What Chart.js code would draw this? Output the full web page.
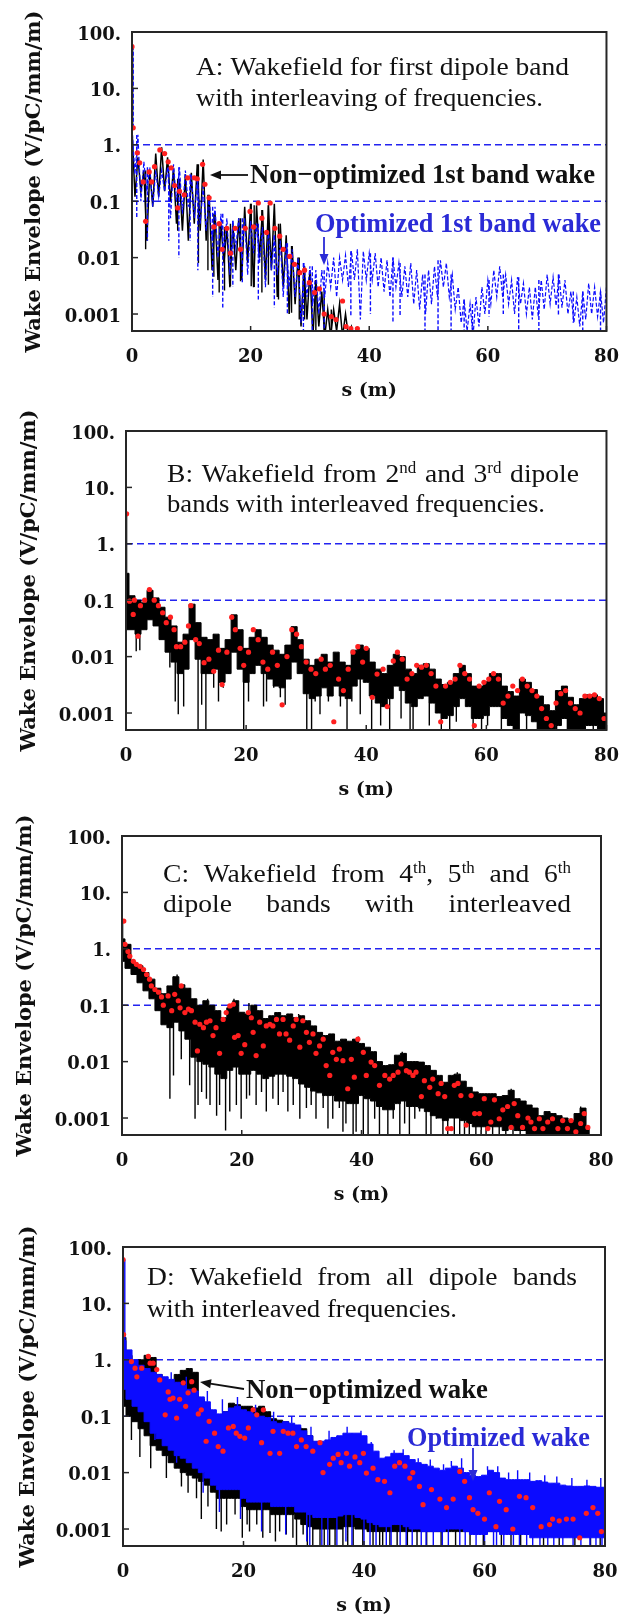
<!DOCTYPE html>
<html>
<head>
<meta charset="utf-8">
<title>Wake envelope</title>
<script src="https://cdn.jsdelivr.net/npm/chart.js@4.4.1/dist/chart.umd.min.js"></script>
<style>
  html, body { margin: 0; padding: 0; background: #fff; }
  body { position: relative; width: 635px; height: 1618px; overflow: hidden; }
  .panel { position: absolute; left: 0; }
</style>
</head>
<body>
<canvas id="panelA" class="panel" width="635" height="400" style="top:2px"></canvas>
<canvas id="panelB" class="panel" width="635" height="400" style="top:401px"></canvas>
<canvas id="panelC" class="panel" width="635" height="400" style="top:806px"></canvas>
<canvas id="panelD" class="panel" width="635" height="400" style="top:1217px"></canvas>
<script>
// ---- shared axes ----
var yTickValues = [100, 10, 1, 0.1, 0.01, 0.001]
var yTickLabels = ['100.', '10.', '1.', '0.1', '0.01', '0.001']
var xTickValues = [0, 20, 40, 60, 80]
var limitLines = [1, 0.1]
var yTitle = 'Wake Envelope (V/pC/mm/m)'
var xTitle = 's (m)'
var sampleStep = 1   // metres between envelope samples

// ---- panel A: first dipole band ----
var aBlackHi = [2, 0.6, 0.35, 0.35, 0.7, 0.9, 0.6, 0.38, 0.25, 0.3, 0.32, 0.45, 0.55, 0.13, 0.06, 0.04, 0.035, 0.04, 0.05, 0.08,
  0.09, 0.085, 0.07, 0.085, 0.09, 0.04, 0.025, 0.016, 0.01, 0.007, 0.006, 0.004, 0.0025, 0.0012, 0.0012, 0.0015, 0.001, 0.0006, 0.0005]
var aBlackLo = [0.12, 0.15, 0.02, 0.08, 0.12, 0.15, 0.1, 0.04, 0.03, 0.02, 0.04, 0.03, 0.02, 0.006, 0.004, 0.008, 0.003, 0.006, 0.004, 0.008,
  0.003, 0.01, 0.004, 0.006, 0.002, 0.003, 0.001, 0.0015, 0.0006, 0.0008, 0.0004, 0.0006, 0.0004, 0.0004, 0.0005, 0.0004, 0.0004, 0.0004, 0.0004]
var aBlackStrokeS = [0.1, 2.3, 7.7, 11.2, 12.8, 13.8, 14.7, 15.6, 16.6, 18.3, 20.1, 20.6, 21.9, 23.0, 24.7, 26.9, 28.2, 29.1, 31.0, 32.4, 33.6]
var aBlackStrokeV = [60, 0.014, 0.03, 0.008, 0.006, 0.0046, 0.0024, 0.0026, 0.0031, 0.0038, 0.0031, 0.003, 0.0024, 0.0033, 0.0018, 0.00105, 0.0008, 0.0008, 0.0004, 0.0004, 0.0004]
var aBlueHi = [2, 1.5, 0.5, 0.4, 0.35, 0.35, 0.4, 0.45, 0.4, 0.35, 0.3, 0.25, 0.18, 0.12, 0.08, 0.06, 0.05, 0.045, 0.05, 0.05,
  0.045, 0.04, 0.035, 0.03, 0.025, 0.02, 0.018, 0.014, 0.01, 0.008, 0.007, 0.006, 0.006, 0.008, 0.01, 0.01, 0.011, 0.013, 0.014, 0.013,
  0.012, 0.012, 0.01, 0.009, 0.01, 0.008, 0.007, 0.008, 0.006, 0.005, 0.006, 0.007, 0.009, 0.008, 0.005, 0.003, 0.0018, 0.0015, 0.002, 0.003,
  0.004, 0.006, 0.007, 0.005, 0.004, 0.0045, 0.0035, 0.003, 0.003, 0.004, 0.005, 0.0045, 0.005, 0.004, 0.0025, 0.002, 0.0025, 0.0035, 0.003, 0.0025, 0.003]
var aBlueLo = [0.3, 0.1, 0.15, 0.08, 0.12, 0.15, 0.05, 0.1, 0.06, 0.08, 0.05, 0.04, 0.03, 0.02, 0.01, 0.012, 0.005, 0.015, 0.01, 0.005,
  0.012, 0.008, 0.003, 0.006, 0.005, 0.002, 0.003, 0.002, 0.0007, 0.002, 0.0015, 0.001, 0.002, 0.003, 0.002, 0.004, 0.003, 0.004, 0.0008, 0.004,
  0.004, 0.003, 0.0025, 0.002, 0.003, 0.002, 0.002, 0.0015, 0.0012, 0.001, 0.0015, 0.002, 0.003, 0.002, 0.0012, 0.0007, 0.0005, 0.0004, 0.0006, 0.001,
  0.0015, 0.002, 0.002, 0.0015, 0.001, 0.0015, 0.001, 0.0008, 0.0009, 0.0012, 0.0015, 0.0014, 0.0013, 0.001, 0.0007, 0.0006, 0.0008, 0.001, 0.0009, 0.0007, 0.001]
var aBlueStrokeS = [0.2, 0.8, 2.6, 6.2, 7.9, 9.8, 11.1, 13.6, 15.3, 17.0, 18.6, 21.3, 24.0, 26.2, 28.9, 30.4, 32.4, 36.9, 40.2, 44.0,
  45.2, 49.4, 51.6, 53.8, 56.0, 57.4, 60.2, 62.6, 65.2, 68.6, 71.9, 74.4, 76.0, 79.0]
var aBlueStrokeV = [60, 0.05, 0.02, 0.02, 0.01, 0.02, 0.006, 0.002, 0.0013, 0.003, 0.0035, 0.0018, 0.0013, 0.001, 0.0004, 0.0004, 0.0004, 0.0009, 0.001, 0.0007,
  0.0009, 0.0004, 0.0004, 0.0004, 0.0004, 0.0004, 0.0009, 0.001, 0.0004, 0.0004, 0.0009, 0.0007, 0.0005, 0.0004]
var aDotS = [0, 0.2, 0.9, 1.3, 1.9, 2.3, 2.9, 3.3, 3.8, 4.7, 5.5, 6.1, 6.6, 7.2, 7.7, 8.0, 8.8, 9.4, 10.5, 11.0,
  11.9, 12.3, 13.0, 13.8, 14.7, 15.2, 16.0, 16.6, 17.4, 18.3, 19.1, 19.9, 20.5, 21.3, 21.9, 22.7, 23.3, 24.1, 24.9, 25.5,
  26.6, 27.4, 28.3, 29.1, 29.9, 30.8, 31.6, 32.4, 33.6, 34.4, 35.5, 36.1, 36.9, 38.0]
var aDotV = [55, 2.0, 0.72, 0.48, 0.22, 0.044, 0.33, 0.22, 0.41, 0.81, 0.7, 0.5, 0.39, 0.19, 0.076, 0.15, 0.13, 0.26, 0.26, 0.25,
  0.45, 0.2, 0.115, 0.035, 0.04, 0.014, 0.033, 0.012, 0.033, 0.014, 0.033, 0.066, 0.035, 0.093, 0.05, 0.028, 0.093, 0.033, 0.024, 0.014,
  0.0105, 0.0076, 0.0054, 0.006, 0.0036, 0.0024, 0.0028, 0.001, 0.0009, 0.0008, 0.0017, 0.0006, 0.00055, 0.00055]

// ---- panel B: 2nd and 3rd bands ----
var bBlackHi = [0.3, 0.12, 0.1, 0.09, 0.15, 0.11, 0.075, 0.05, 0.035, 0.018, 0.025, 0.085, 0.04, 0.022, 0.02, 0.025, 0.014, 0.02, 0.055, 0.03,
  0.014, 0.022, 0.03, 0.022, 0.016, 0.013, 0.011, 0.016, 0.034, 0.02, 0.009, 0.007, 0.009, 0.011, 0.008, 0.012, 0.008, 0.007, 0.013, 0.016,
  0.014, 0.008, 0.006, 0.005, 0.007, 0.011, 0.01, 0.006, 0.005, 0.007, 0.0075, 0.006, 0.004, 0.0032, 0.0035, 0.005, 0.007, 0.005, 0.003, 0.003,
  0.0036, 0.005, 0.005, 0.003, 0.0024, 0.002, 0.004, 0.0035, 0.0026, 0.002, 0.0014, 0.0011, 0.0025, 0.003, 0.0019, 0.0014, 0.0018, 0.0021, 0.0021, 0.0018, 0.001]
var bBlackLo = [0.03, 0.03, 0.025, 0.03, 0.045, 0.035, 0.02, 0.012, 0.008, 0.005, 0.006, 0.02, 0.009, 0.005, 0.005, 0.006, 0.0035, 0.005, 0.012, 0.006,
  0.0035, 0.005, 0.007, 0.005, 0.004, 0.003, 0.0028, 0.004, 0.008, 0.005, 0.0022, 0.0018, 0.002, 0.0028, 0.002, 0.003, 0.002, 0.0018, 0.003, 0.004,
  0.0035, 0.002, 0.0015, 0.0013, 0.0018, 0.003, 0.0025, 0.0015, 0.0013, 0.0018, 0.002, 0.0015, 0.001, 0.0008, 0.0009, 0.0013, 0.0018, 0.0013, 0.0008, 0.0008,
  0.0009, 0.0013, 0.0013, 0.0008, 0.0006, 0.0005, 0.001, 0.0009, 0.0007, 0.0005, 0.0004, 0.0004, 0.0006, 0.0008, 0.0005, 0.0004, 0.0005, 0.0006, 0.0006, 0.0005, 0.0004]
var bBlackStrokeS = [0.1, 1.7, 2.3, 7.3, 8.2, 8.7, 9.6, 12.0, 12.6, 13.3, 14.6, 15.4, 16.2, 17.1, 19.6, 20.4, 22.9, 23.4, 24.6, 25.7,
  26.5, 30.1, 30.9, 31.5, 32.3, 33.7, 35.7, 36.8, 37.6, 39.0, 40.9, 42.4, 43.9, 45.8, 47.3, 47.8, 50.5, 52.5, 53.9, 55.0,
  57.8, 59.2, 60.2, 62.5, 64.5, 66.7, 68.5, 70.9, 71.7, 73.5, 75.6, 77.8, 79.5]
var bBlackStrokeV = [3.5, 0.0125, 0.013, 0.0064, 0.0016, 0.00095, 0.0013, 0.0004, 0.0014, 0.0004, 0.0028, 0.0016, 0.0028, 0.0049, 0.0004, 0.0016, 0.0013, 0.0016, 0.0028, 0.0019,
  0.0014, 0.0004, 0.0004, 0.0016, 0.00095, 0.0016, 0.0013, 0.0004, 0.0016, 0.00095, 0.0004, 0.0006, 0.0004, 0.0008, 0.0004, 0.0005, 0.0006, 0.0004, 0.0004, 0.0007,
  0.0004, 0.0005, 0.0006, 0.0004, 0.0004, 0.0004, 0.0005, 0.0004, 0.0004, 0.0005, 0.0004, 0.0004, 0.0004]
var bDotS = [0.1, 0.6, 1.2, 1.4, 2.0, 2.4, 3.1, 3.9, 4.7, 5.4, 6.1, 6.7, 7.4, 8.0, 8.4, 9.1, 9.8, 10.4, 10.8, 11.6,
  12.2, 13.0, 13.8, 14.6, 15.4, 16.0, 16.8, 17.6, 18.2, 19.0, 19.6, 20.4, 21.2, 22.0, 22.8, 23.6, 24.4, 25.2, 26.0, 26.8,
  27.6, 28.4, 29.2, 30.0, 30.8, 31.6, 32.5, 33.2, 34.0, 34.6, 35.4, 36.2, 37.0, 37.8, 38.6, 39.4, 40.0, 41.0, 41.8, 42.8,
  43.5, 44.5, 45.2, 46.0, 46.8, 47.6, 48.4, 49.2, 50.0, 50.8, 51.6, 52.4, 53.2, 54.0, 54.8, 55.6, 56.4, 57.2, 58.0, 58.8,
  59.6, 60.4, 61.2, 62.0, 62.8, 63.6, 64.4, 65.2, 66.0, 66.8, 67.6, 68.4, 69.2, 70.0, 70.8, 71.6, 72.4, 73.2, 74.0, 74.8,
  75.6, 76.4, 77.2, 78.0, 78.8, 79.6]
var bDotV = [3.4, 0.096, 0.056, 0.1, 0.023, 0.08, 0.1, 0.155, 0.1, 0.08, 0.06, 0.04, 0.05, 0.03, 0.015, 0.015, 0.018, 0.035, 0.08, 0.02,
  0.017, 0.0078, 0.009, 0.0055, 0.013, 0.0032, 0.012, 0.05, 0.03, 0.014, 0.007, 0.012, 0.03, 0.02, 0.008, 0.006, 0.012, 0.007, 0.0014, 0.01,
  0.03, 0.025, 0.015, 0.008, 0.006, 0.005, 0.009, 0.006, 0.007, 0.0007, 0.004, 0.0025, 0.006, 0.012, 0.015, 0.008, 0.014, 0.0019, 0.0049, 0.006,
  0.0013, 0.0084, 0.012, 0.009, 0.004, 0.005, 0.007, 0.0065, 0.007, 0.005, 0.003, 0.0007, 0.003, 0.0035, 0.004, 0.007, 0.005, 0.004, 0.0006, 0.003,
  0.0035, 0.004, 0.005, 0.004, 0.0015, 0.002, 0.003, 0.0025, 0.004, 0.003, 0.0025, 0.002, 0.0012, 0.0008, 0.0006, 0.0015, 0.0022, 0.0025, 0.0015, 0.0012,
  0.001, 0.002, 0.002, 0.0021, 0.0018, 0.0008]

// ---- panel C: 4th, 5th and 6th bands ----
var cBlackHi = [1.5, 1.2, 0.57, 0.5, 0.38, 0.29, 0.2, 0.16, 0.22, 0.32, 0.23, 0.2, 0.13, 0.1, 0.12, 0.1, 0.08, 0.06, 0.09, 0.12,
  0.075, 0.07, 0.1, 0.08, 0.058, 0.065, 0.074, 0.065, 0.07, 0.06, 0.065, 0.053, 0.043, 0.033, 0.029, 0.031, 0.023, 0.025, 0.023, 0.025,
  0.021, 0.018, 0.015, 0.01, 0.0085, 0.0088, 0.013, 0.014, 0.01, 0.01, 0.0098, 0.0085, 0.007, 0.0057, 0.0043, 0.0057, 0.006, 0.0045, 0.0035, 0.0029,
  0.0027, 0.0027, 0.0027, 0.0024, 0.0025, 0.0031, 0.0022, 0.002, 0.0017, 0.0015, 0.0011, 0.0013, 0.0012, 0.0011, 0.001, 0.0009, 0.0012, 0.0015, 0.0007]
var cBlackLo = [0.6, 0.45, 0.35, 0.25, 0.18, 0.13, 0.08, 0.045, 0.04, 0.05, 0.035, 0.025, 0.012, 0.01, 0.009, 0.008, 0.006, 0.005, 0.007, 0.008,
  0.006, 0.006, 0.007, 0.006, 0.005, 0.0055, 0.006, 0.006, 0.0055, 0.005, 0.004, 0.0035, 0.003, 0.0028, 0.0025, 0.0025, 0.002, 0.002, 0.0018, 0.0018,
  0.0025, 0.0022, 0.002, 0.0016, 0.0014, 0.0014, 0.0018, 0.002, 0.0016, 0.0016, 0.0015, 0.0013, 0.0011, 0.001, 0.0009, 0.001, 0.001, 0.0009, 0.0008, 0.0007,
  0.0007, 0.0007, 0.0007, 0.0007, 0.0006, 0.0007, 0.0006, 0.0006, 0.0005, 0.0005, 0.0004, 0.0004, 0.0004, 0.0004, 0.0004, 0.0004, 0.0004, 0.0004, 0.0004]
var cBlackStrokeS = [0.1, 8.0, 8.6, 9.9, 11.3, 12.2, 12.7, 13.3, 14.1, 14.7, 15.8, 16.3, 17.3, 18.0, 19.1, 19.9, 20.8, 21.3, 22.4, 23.3,
  24.1, 25.2, 26.1, 26.9, 27.7, 28.6, 29.7, 30.8, 31.6, 32.4, 33.6, 34.4, 35.2, 36.3, 36.9, 37.4, 38.6, 39.1,
  40.3, 41.1, 42.2, 43.0, 44.4, 45.3, 46.4, 47.2, 48.0, 48.9, 49.7, 50.8, 51.6, 52.5, 53.6, 54.4, 55.5, 56.4, 57.2, 58.0,
  59.1, 60.0, 60.8, 61.9, 63.0, 64.1, 65.3, 66.5, 67.6, 69.0, 70.2, 71.5, 72.6, 74.0, 75.4, 76.9, 78.0,
  9.2, 14.3, 18.7, 21.2, 29.5, 39.5, 46.8, 56.0, 65.0, 76.6]
var cBlackStrokeV = [3.1, 0.0022, 0.0057, 0.011, 0.0038, 0.00097, 0.0017, 0.0029, 0.0022, 0.0017, 0.0011, 0.0017, 0.0006, 0.0013, 0.0017, 0.00097, 0.0022, 0.0025, 0.0017, 0.0029,
  0.0013, 0.0022, 0.0017, 0.0029, 0.0013, 0.0017, 0.00097, 0.0015, 0.0017, 0.00097, 0.0015, 0.00065, 0.00097, 0.0015, 0.00057, 0.0008, 0.0005, 0.00057,
  0.0004, 0.0004, 0.00097, 0.0004, 0.0004, 0.00097, 0.0004, 0.0008, 0.0004, 0.00097, 0.0013, 0.0004, 0.0004, 0.00097, 0.0004, 0.0004, 0.0004, 0.0004, 0.0004, 0.0004,
  0.0004, 0.0004, 0.0004, 0.0004, 0.0004, 0.0004, 0.0004, 0.0004, 0.0004, 0.0004, 0.0004, 0.0004, 0.0004, 0.0004, 0.0004, 0.0004, 0.0004,
  0.35, 0.13, 0.13, 0.11, 0.07, 0.028, 0.015, 0.0065, 0.0033, 0.0016]
var cDotS = [0.3, 0.5, 1.0, 1.3, 1.9, 2.4, 3.0, 3.6, 4.1, 4.6, 4.9, 5.5, 6.1, 6.6, 6.9, 7.7, 8.3, 8.8, 9.4, 9.7,
  9.9, 10.5, 11.1, 11.6, 12.2, 12.6, 13.0, 13.6, 14.1, 14.7, 15.2, 15.7, 16.3, 16.9, 17.4, 18.0, 18.6, 18.8, 19.4, 19.9,
  20.5, 21.1, 21.6, 21.9, 22.4, 23.0, 23.6, 24.1, 24.7, 25.2, 25.8, 26.3, 26.9, 27.4, 28.0, 28.6, 29.1, 29.7, 30.2, 30.8,
  31.3, 31.9, 32.4, 33.0, 33.6, 34.1, 34.7, 35.2, 35.8, 36.3, 36.9, 37.7, 38.3, 38.8, 39.4, 40.3, 40.8, 41.6, 42.2, 43.0,
  43.9, 44.7, 45.3, 46.1, 46.6, 47.5, 48.0, 48.6, 49.1, 50.0, 50.5, 51.4, 51.9, 52.8, 53.3, 53.9, 54.4, 55.0, 55.5, 56.1,
  56.6, 57.5, 58.3, 58.9, 59.7, 60.5, 61.1, 61.6, 62.2, 63.0, 63.6, 64.4, 65.0, 65.5, 66.1, 66.9, 67.8, 68.3, 68.9, 69.7,
  70.3, 71.1, 71.9, 72.8, 73.6, 74.4, 75.0, 75.8, 76.6, 77.2, 77.8]
var cDotV = [3.1, 1.2, 0.9, 0.74, 0.6, 0.53, 0.49, 0.43, 0.35, 0.29, 0.22, 0.19, 0.17, 0.14, 0.1, 0.146, 0.08, 0.156, 0.12, 0.09,
  0.22, 0.074, 0.085, 0.08, 0.05, 0.0155, 0.046, 0.04, 0.05, 0.053, 0.029, 0.04, 0.014, 0.056, 0.074, 0.097, 0.104, 0.027, 0.029, 0.014,
  0.02, 0.074, 0.06, 0.033, 0.0128, 0.05, 0.019, 0.043, 0.046, 0.043, 0.056, 0.031, 0.056, 0.031, 0.024, 0.043, 0.056, 0.018, 0.053, 0.033,
  0.022, 0.031, 0.014, 0.019, 0.025, 0.0085, 0.0057, 0.0146, 0.011, 0.0167, 0.0104, 0.0033, 0.011, 0.0053, 0.025, 0.0146, 0.0057, 0.0098, 0.0085, 0.0038,
  0.0057, 0.0049, 0.0057, 0.0065, 0.0091, 0.0069, 0.0065, 0.0057, 0.0065, 0.0024, 0.0046, 0.0035, 0.0049, 0.0027, 0.0041, 0.0024, 0.00065, 0.00065, 0.0038, 0.0041,
  0.0025, 0.00075, 0.0025, 0.0012, 0.0012, 0.0022, 0.00065, 0.00085, 0.0021, 0.00097, 0.0014, 0.0016, 0.00068, 0.0018, 0.0011, 0.00068, 0.001, 0.00085, 0.00065, 0.00097,
  0.00065, 0.00085, 0.00097, 0.00065, 0.0009, 0.00065, 0.0009, 0.00057, 0.0008, 0.0012, 0.00068]

// ---- panel D: all dipole bands ----
var dBlueHi = [2.2, 1.5, 1.0, 0.8, 0.7, 0.6, 0.55, 0.5, 0.45, 0.4, 0.35, 0.3, 0.28, 0.22, 0.18, 0.13, 0.11, 0.12, 0.14, 0.15,
  0.13, 0.12, 0.11, 0.1, 0.095, 0.08, 0.075, 0.08, 0.075, 0.07, 0.055, 0.045, 0.036, 0.036, 0.038, 0.042, 0.045, 0.05, 0.05, 0.05,
  0.045, 0.032, 0.024, 0.018, 0.019, 0.022, 0.022, 0.02, 0.017, 0.015, 0.014, 0.013, 0.012, 0.011, 0.012, 0.013, 0.012, 0.01, 0.009, 0.0085,
  0.009, 0.011, 0.01, 0.008, 0.0075, 0.0075, 0.0075, 0.0075, 0.007, 0.0072, 0.0068, 0.0065, 0.0065, 0.006, 0.0058, 0.0057, 0.0057, 0.0058, 0.0057, 0.0055, 0.0055]
var dBlueLo = [0.3, 0.2, 0.15, 0.12, 0.08, 0.05, 0.04, 0.03, 0.025, 0.02, 0.018, 0.015, 0.012, 0.01, 0.008, 0.006, 0.005, 0.005, 0.005, 0.005,
  0.0035, 0.003, 0.003, 0.003, 0.003, 0.0025, 0.0025, 0.0025, 0.0025, 0.002, 0.002, 0.0018, 0.0016, 0.0016, 0.0016, 0.0016, 0.0017, 0.0018, 0.0018, 0.0016,
  0.0015, 0.0013, 0.0012, 0.0011, 0.0011, 0.0012, 0.0012, 0.0011, 0.001, 0.001, 0.0009, 0.0009, 0.0009, 0.0009, 0.001, 0.001, 0.001, 0.0009, 0.0008, 0.0008,
  0.0008, 0.0009, 0.0009, 0.0008, 0.0008, 0.0008, 0.0008, 0.0008, 0.0007, 0.0007, 0.0007, 0.0007, 0.0007, 0.0007, 0.0007, 0.0007, 0.0007, 0.0007, 0.0007, 0.0007, 0.0007]
var dBlueStrokeS = [0.3, 5.3, 8.9, 13.3, 16.0, 19.5, 23.0, 27.0, 30.5, 31.0, 33.0, 34.0, 35.5, 37.0, 38.0, 40.0, 41.0, 42.0, 43.7, 44.5,
  46.0, 47.0, 48.0, 49.5, 50.3, 51.5, 53.0, 54.0, 55.9, 56.8, 58.6, 60.0, 61.5, 62.0, 63.2, 64.8, 65.8, 67.0, 68.0, 69.2,
  70.5, 71.5, 73.0, 74.7, 76.0, 77.5, 78.5, 79.5,
  8.0, 10.5, 14.0, 16.5, 19.0, 22.0, 25.0, 28.0, 31.2, 34.2, 37.2, 39.5, 41.2, 45.0, 46.5, 49.0, 51.0, 53.2, 54.5, 56.2,
  60.5, 62.2, 64.0, 65.5, 67.5, 70.0, 72.0, 74.5, 77.0, 79.3]
var dBlueStrokeV = [60, 0.038, 0.015, 0.0044, 0.002, 0.0015, 0.0009, 0.0008, 0.0006, 0.0004, 0.0005, 0.0005, 0.0004, 0.0006, 0.0004, 0.0005, 0.0004, 0.0004, 0.0004, 0.0004,
  0.0004, 0.0004, 0.0004, 0.0004, 0.0004, 0.0004, 0.0004, 0.0004, 0.0004, 0.0004, 0.0004, 0.0004, 0.0004, 0.0004, 0.0004, 0.0004, 0.0004, 0.0004, 0.0004, 0.0004,
  0.0004, 0.0004, 0.0004, 0.0004, 0.0004, 0.0004, 0.0004, 0.0004,
  0.6, 0.5, 0.28, 0.2, 0.22, 0.16, 0.12, 0.1, 0.065, 0.055, 0.065, 0.055, 0.035, 0.025, 0.026, 0.018, 0.017, 0.014, 0.016, 0.018,
  0.013, 0.013, 0.01, 0.011, 0.01, 0.009, 0.0085, 0.008, 0.0075, 0.008]
var dBlackHi = [2.5, 1.2, 0.9, 1.0, 1.2, 1.1, 0.55, 0.4, 0.4, 0.55, 0.65, 0.7, 0.6, 0.2, 0.14, 0.1, 0.08, 0.12, 0.17, 0.16,
  0.15, 0.15, 0.14, 0.15, 0.12, 0.09, 0.085, 0.08, 0.07, 0.065, 0.06, 0.045, 0.035, 0.025, 0.025, 0.03, 0.03, 0.03, 0.03, 0.03,
  0.025, 0.02, 0.015, 0.012, 0.012, 0.013, 0.013, 0.012, 0.01, 0.009, 0.008, 0.008, 0.007, 0.007, 0.007, 0.008, 0.007, 0.006, 0.005, 0.005,
  0.005, 0.006, 0.006, 0.005, 0.0045, 0.0045, 0.0045, 0.0045, 0.004, 0.004, 0.004, 0.004, 0.0038, 0.0035, 0.0035, 0.0035, 0.0035, 0.0035, 0.0035, 0.0033, 0.0033]
var dBlackLo = [0.15, 0.1, 0.08, 0.06, 0.045, 0.03, 0.025, 0.02, 0.015, 0.012, 0.01, 0.009, 0.008, 0.007, 0.006, 0.0045, 0.0035, 0.0035, 0.0035, 0.0035,
  0.0025, 0.0022, 0.0022, 0.0022, 0.0022, 0.0018, 0.0018, 0.0018, 0.0018, 0.0015, 0.0012, 0.0011, 0.001, 0.001, 0.001, 0.001, 0.001, 0.0011, 0.0011, 0.001,
  0.001, 0.0009, 0.0009, 0.0009, 0.0009, 0.0009, 0.0009, 0.0009, 0.0009, 0.0009, 0.0009, 0.0009, 0.0009, 0.0009, 0.0009, 0.0009, 0.0009, 0.0009, 0.0009, 0.0009,
  0.0009, 0.0009, 0.0009, 0.0009, 0.0009, 0.0009, 0.0009, 0.0009, 0.0009, 0.0009, 0.0009, 0.0009, 0.0009, 0.0009, 0.0009, 0.0009, 0.0009, 0.0009, 0.0009, 0.0009, 0.0009]
var dBlackStrokeS = [0.1, 1.4, 2.8, 4.6, 7.2, 9.7, 10.8, 12.2, 14.1, 15.5, 17.2, 18.6, 21.0, 22.2, 24.4, 26.0, 28.2, 29.9, 31.5, 32.7,
  34.3, 36.5, 38.2, 39.8, 41.5, 42.6, 43.1, 44.3, 45.5, 47.2, 48.8, 50.4, 52.8, 55.2, 57.6, 59.8, 62.8, 64.4, 66.0, 69.8,
  72.4, 75.0, 77.6, 79.2, 13.0, 16.3, 19.8, 20.6, 23.2, 25.3, 27.1, 28.8, 30.6, 33.4, 35.2, 37.3]
var dBlackStrokeV = [60, 0.038, 0.019, 0.012, 0.008, 0.0057, 0.0044, 0.0035, 0.0025, 0.001, 0.0012, 0.0018, 0.0009, 0.0012, 0.00085, 0.0009, 0.0007, 0.0008, 0.0004, 0.0004,
  0.0005, 0.0004, 0.0004, 0.0004, 0.0004, 0.0004, 0.0004, 0.0004, 0.0004, 0.0004, 0.0004, 0.0004, 0.0004, 0.0004, 0.0004, 0.0004, 0.0004, 0.0004, 0.0004, 0.0004,
  0.0004, 0.0004, 0.0004, 0.0004, 0.0015, 0.0009, 0.0007, 0.0012, 0.0007, 0.0006, 0.0008, 0.0005, 0.0004, 0.0004, 0.0004, 0.0004]
var dDotS = [0.0, 0.1, 1.4, 2.0, 2.3, 3.1, 4.2, 4.5, 5.0, 5.6, 6.1, 7.0, 7.5, 7.8, 8.3, 8.9, 9.4, 10.0, 10.4, 10.8,
  11.4, 11.8, 12.5, 13.0, 13.8, 14.3, 15.2, 15.8, 16.6, 17.5, 18.3, 18.8, 19.4, 20.2, 20.8, 21.6, 22.2, 23.0, 23.3, 24.4,
  24.9, 26.0, 26.6, 27.4, 28.2, 28.8, 29.6, 30.4, 31.5, 32.7, 33.2, 34.3, 34.9, 35.7, 36.2, 37.1, 37.6, 38.5, 39.3, 39.9,
  40.4, 41.5, 42.3, 43.4, 44.3, 45.1, 45.9, 46.8, 47.6, 48.1, 49.2, 49.8, 51.2, 52.6, 53.7, 54.8, 55.9, 56.7, 57.5, 58.1,
  58.9, 60.0, 60.8, 61.9, 62.5, 63.6, 64.7, 65.8, 66.9, 68.0, 69.4, 70.8, 71.3, 72.4, 73.6, 74.7, 75.8, 76.9, 78.0, 78.8, 79.4]
var dDotV = [60, 2.8, 0.93, 0.71, 0.5, 0.71, 1.15, 0.87, 0.87, 0.67, 0.44, 0.106, 0.27, 0.2, 0.21, 0.093, 0.2, 0.39, 0.15, 0.26,
  0.41, 0.29, 0.11, 0.13, 0.036, 0.081, 0.05, 0.029, 0.024, 0.062, 0.066, 0.05, 0.044, 0.041, 0.062, 0.13, 0.106, 0.034, 0.13, 0.022,
  0.054, 0.022, 0.054, 0.05, 0.05, 0.029, 0.038, 0.029, 0.024, 0.034, 0.01, 0.014, 0.018, 0.021, 0.015, 0.022, 0.013, 0.019, 0.015, 0.022,
  0.0098, 0.012, 0.0075, 0.007, 0.0044, 0.013, 0.015, 0.013, 0.008, 0.01, 0.0057, 0.0027, 0.005, 0.0034, 0.0024, 0.0034, 0.0105, 0.007, 0.0036, 0.0022,
  0.0019, 0.0015, 0.0044, 0.0011, 0.0031, 0.0022, 0.001, 0.0038, 0.0036, 0.0024, 0.0011, 0.0012, 0.0015, 0.0014, 0.0015, 0.0015, 0.0007, 0.0019, 0.0024, 0.0019, 0.0009]

// ---- styling ----
var BLACK = '#000000'
var BLUE = '#0b0bff'
var RED = '#ff1f1f'
var LIMIT = '#2323f0'
var NOTE_BLUE = '#2a2ad6'
var FRAME = '#262626'
var PLOT_FONT = '"DejaVu Serif", serif'
var NOTE_FONT = '"Liberation Serif", "Times New Roman", serif'

function pointsOf(s, v) {
  return s.map(function (x, i) { return { x: x, y: v[i] } })
}
function envelope(values) {
  return values.map(function (v, i) { return { x: i * sampleStep, y: v } })
}
function zigzag(hi, lo) {
  var out = []
  hi.forEach(function (v, i) {
    out.push({ x: i * sampleStep, y: v })
    out.push({ x: (i + 0.5) * sampleStep, y: lo[i] })
  })
  return out
}
// vertical strokes (dips, spikes), broken apart by null gaps
function strokes(s, v, hi) {
  var out = []
  s.forEach(function (x, i) {
    var k = Math.min(hi.length - 1, Math.round(x / sampleStep))
    out.push({ x: x, y: hi[k] }, { x: x, y: v[i] }, { x: x, y: null })
  })
  return out
}

function drawNote(ctx, n, top) {
  var size = n.size || 26
  var sup = Math.round(size * 0.6)
  var font = function (px) { return (n.bold ? 'bold ' : '') + px + 'px ' + NOTE_FONT }
  var words = n.text.split(' ').map(function (w) {
    var m = w.match(/^([^^]*)\^([a-z]+)(.*)$/)
    return m ? [m[1], m[2], m[3]] : [w, '', '']
  })
  ctx.save()
  ctx.textBaseline = 'alphabetic'
  ctx.textAlign = 'left'
  ctx.fillStyle = n.color || '#111'
  var widths = words.map(function (w) {
    ctx.font = font(size)
    var width = ctx.measureText(w[0]).width + ctx.measureText(w[2]).width
    ctx.font = font(sup)
    if (w[1]) width += ctx.measureText(w[1]).width
    return width
  })
  ctx.font = font(size)
  var space = ctx.measureText(' ').width
  var inked = widths.reduce(function (a, b) { return a + b }, 0)
  var sx, gap
  if (n.justify) {
    sx = 1.06
    gap = (n.width / sx - inked) / (words.length - 1)
  } else {
    sx = n.width / (inked + space * (words.length - 1))
    gap = space
  }
  ctx.translate(n.x, n.y - top)
  ctx.scale(sx, 1)
  var x = 0
  words.forEach(function (w) {
    ctx.font = font(size)
    ctx.fillText(w[0], x, 0)
    x += ctx.measureText(w[0]).width
    if (w[1]) {
      ctx.font = font(sup)
      ctx.fillText(w[1], x, -size * 0.36)
      x += ctx.measureText(w[1]).width
    }
    if (w[2]) {
      ctx.font = font(size)
      ctx.fillText(w[2], x, 0)
      x += ctx.measureText(w[2]).width
    }
    x += gap
  })
  ctx.restore()
}

function drawArrow(ctx, a, top) {
  var x1 = a.x1, y1 = a.y1 - top, x2 = a.x2, y2 = a.y2 - top
  var ang = Math.atan2(y2 - y1, x2 - x1)
  var len = 11, half = 4.5
  ctx.save()
  ctx.strokeStyle = ctx.fillStyle = a.color || '#111'
  ctx.lineWidth = 1.8
  ctx.beginPath()
  ctx.moveTo(x1, y1)
  ctx.lineTo(x2 - Math.cos(ang) * len * 0.8, y2 - Math.sin(ang) * len * 0.8)
  ctx.stroke()
  ctx.beginPath()
  ctx.moveTo(x2, y2)
  ctx.lineTo(x2 - Math.cos(ang) * len - Math.sin(ang) * half, y2 - Math.sin(ang) * len + Math.cos(ang) * half)
  ctx.lineTo(x2 - Math.cos(ang) * len + Math.sin(ang) * half, y2 - Math.sin(ang) * len - Math.cos(ang) * half)
  ctx.closePath()
  ctx.fill()
  ctx.restore()
}

var decor = {
  id: 'decor',
  afterDatasetsDraw: function (chart, args, opts) {
    var ctx = chart.ctx, a = chart.chartArea
    ctx.save()
    ctx.strokeStyle = FRAME
    ctx.lineWidth = 1.5
    yTickValues.forEach(function (v) {
      var y = chart.scales.y.getPixelForValue(v)
      ctx.beginPath(); ctx.moveTo(a.left, y); ctx.lineTo(a.left + 6, y); ctx.stroke()
    })
    xTickValues.forEach(function (v) {
      var x = chart.scales.x.getPixelForValue(v)
      ctx.beginPath(); ctx.moveTo(x, a.bottom); ctx.lineTo(x, a.bottom - 5); ctx.stroke()
    })
    ctx.lineWidth = 2
    ctx.strokeRect(a.left, a.top, a.right - a.left, a.bottom - a.top)
    ctx.restore()
  },
  afterDraw: function (chart, args, opts) {
    (opts.notes || []).forEach(function (n) { drawNote(chart.ctx, n, opts.top) });
    (opts.arrows || []).forEach(function (a) { drawArrow(chart.ctx, a, opts.top) })
  }
}

function makePanel(id, p) {
  var datasets = [{
    data: pointsOf(p.dotS, p.dotV), showLine: false,
    pointRadius: 2.6, pointBackgroundColor: RED, pointBorderWidth: 0
  }]
  p.traces.forEach(function (t) {
    if (t.solid) {
      datasets.push({ data: envelope(t.hi), borderColor: t.color, backgroundColor: t.color, borderWidth: 1, fill: '+1', stepped: 'middle' })
      datasets.push({ data: envelope(t.lo), borderColor: t.color, borderWidth: 1, fill: false, stepped: 'middle' })
    } else {
      datasets.push({ data: zigzag(t.hi, t.lo), borderColor: t.color, borderWidth: t.width || 1.2, borderDash: t.dash || [], fill: false })
    }
    datasets.push({ data: strokes(t.strokeS, t.strokeV, t.hi), borderColor: t.color, borderWidth: 1.4, borderDash: t.dash || [], fill: false, spanGaps: false })
  })
  limitLines.forEach(function (v) {
    datasets.push({
      data: [{ x: xTickValues[0], y: v }, { x: xTickValues[xTickValues.length - 1], y: v }],
      borderColor: LIMIT, borderWidth: 1.6, borderDash: [7, 4], fill: false
    })
  })

  var tickFont = { family: PLOT_FONT, size: 18, weight: 'bold' }
  return new Chart(document.getElementById(id), {
    type: 'line',
    data: { datasets: datasets },
    plugins: [decor],
    options: {
      responsive: false,
      animation: false,
      devicePixelRatio: 1,
      events: [],
      layout: { padding: { top: 30, right: 635 - p.right, bottom: 0, left: 0 } },
      elements: { point: { radius: 0, hoverRadius: 0 }, line: { tension: 0, borderJoinStyle: 'miter' } },
      scales: {
        x: {
          type: 'linear', min: xTickValues[0], max: xTickValues[xTickValues.length - 1],
          afterBuildTicks: function (s) { s.ticks = xTickValues.map(function (v) { return { value: v } }) },
          afterFit: function (s) { s.height = 71 },
          grid: { display: false, drawTicks: false },
          border: { display: false },
          ticks: { padding: 16, font: tickFont, color: '#111', maxRotation: 0 },
          title: { display: true, text: xTitle, font: { family: PLOT_FONT, size: 19, weight: 'bold' }, color: '#111', padding: { top: 0, bottom: 0 } }
        },
        y: {
          type: 'logarithmic', min: 0.0005, max: 100,
          afterBuildTicks: function (s) { s.ticks = yTickValues.map(function (v) { return { value: v } }) },
          afterFit: function (s) { s.width = p.left },
          grid: { display: false, drawTicks: false },
          border: { display: false },
          ticks: { autoSkip: false, padding: 11, labelOffset: 3, font: tickFont, color: '#111', callback: function (v, i) { return yTickLabels[i] } },
          title: { display: true, text: yTitle, font: { family: PLOT_FONT, size: 21, weight: 'bold' }, color: '#111', padding: { top: p.titleX - 12.6, bottom: 0 } }
        }
      },
      plugins: {
        legend: { display: false },
        tooltip: { enabled: false },
        decor: { top: p.top, notes: p.notes, arrows: p.arrows || [] }
      }
    }
  })
}

makePanel('panelA', {
  top: 2, left: 132, right: 612, titleX: 35,
  dotS: aDotS, dotV: aDotV,
  traces: [
    { color: BLUE, hi: aBlueHi, lo: aBlueLo, strokeS: aBlueStrokeS, strokeV: aBlueStrokeV, dash: [4, 2] },
    { color: BLACK, hi: aBlackHi, lo: aBlackLo, strokeS: aBlackStrokeS, strokeV: aBlackStrokeV, width: 1.5 }
  ],
  notes: [
    { text: 'A: Wakefield for first dipole band', x: 196, y: 75, width: 373 },
    { text: 'with interleaving of frequencies.', x: 196, y: 106, width: 347 },
    { text: 'Non\u2212optimized 1st band wake', x: 250, y: 183, width: 345, bold: true, size: 28 },
    { text: 'Optimized 1st band wake', x: 315, y: 232, width: 286, bold: true, size: 28, color: NOTE_BLUE }
  ],
  arrows: [
    { x1: 248, y1: 175, x2: 210, y2: 175 },
    { x1: 324, y1: 237, x2: 324, y2: 265, color: NOTE_BLUE }
  ]
})

makePanel('panelB', {
  top: 401, left: 126, right: 607, titleX: 30,
  dotS: bDotS, dotV: bDotV,
  traces: [
    { color: BLACK, solid: true, hi: bBlackHi, lo: bBlackLo, strokeS: bBlackStrokeS, strokeV: bBlackStrokeV }
  ],
  notes: [
    { text: 'B: Wakefield from 2^nd and 3^rd dipole', x: 167, y: 482, width: 412, justify: true },
    { text: 'bands with interleaved frequencies.', x: 167, y: 512, width: 378 }
  ]
})

makePanel('panelC', {
  top: 806, left: 122, right: 601, titleX: 26,
  dotS: cDotS, dotV: cDotV,
  traces: [
    { color: BLACK, solid: true, hi: cBlackHi, lo: cBlackLo, strokeS: cBlackStrokeS, strokeV: cBlackStrokeV }
  ],
  notes: [
    { text: 'C: Wakefield from 4^th, 5^th and 6^th', x: 163, y: 882, width: 408, justify: true },
    { text: 'dipole bands with interleaved', x: 163, y: 912, width: 408, justify: true }
  ]
})

makePanel('panelD', {
  top: 1217, left: 123, right: 605, titleX: 29,
  dotS: dDotS, dotV: dDotV,
  traces: [
    { color: BLUE, solid: true, hi: dBlueHi, lo: dBlueLo, strokeS: dBlueStrokeS, strokeV: dBlueStrokeV },
    { color: BLACK, solid: true, hi: dBlackHi, lo: dBlackLo, strokeS: dBlackStrokeS, strokeV: dBlackStrokeV }
  ],
  notes: [
    { text: 'D: Wakefield from all dipole bands', x: 147, y: 1285, width: 430, justify: true },
    { text: 'with interleaved frequencies.', x: 147, y: 1317, width: 310 },
    { text: 'Non\u2212optimized wake', x: 246, y: 1398, width: 242, bold: true, size: 28 },
    { text: 'Optimized wake', x: 407, y: 1446, width: 183, bold: true, size: 28, color: NOTE_BLUE }
  ],
  arrows: [
    { x1: 244, y1: 1389, x2: 200, y2: 1382 },
    { x1: 473, y1: 1448, x2: 473, y2: 1481, color: NOTE_BLUE }
  ]
})
</script>
</body>
</html>
